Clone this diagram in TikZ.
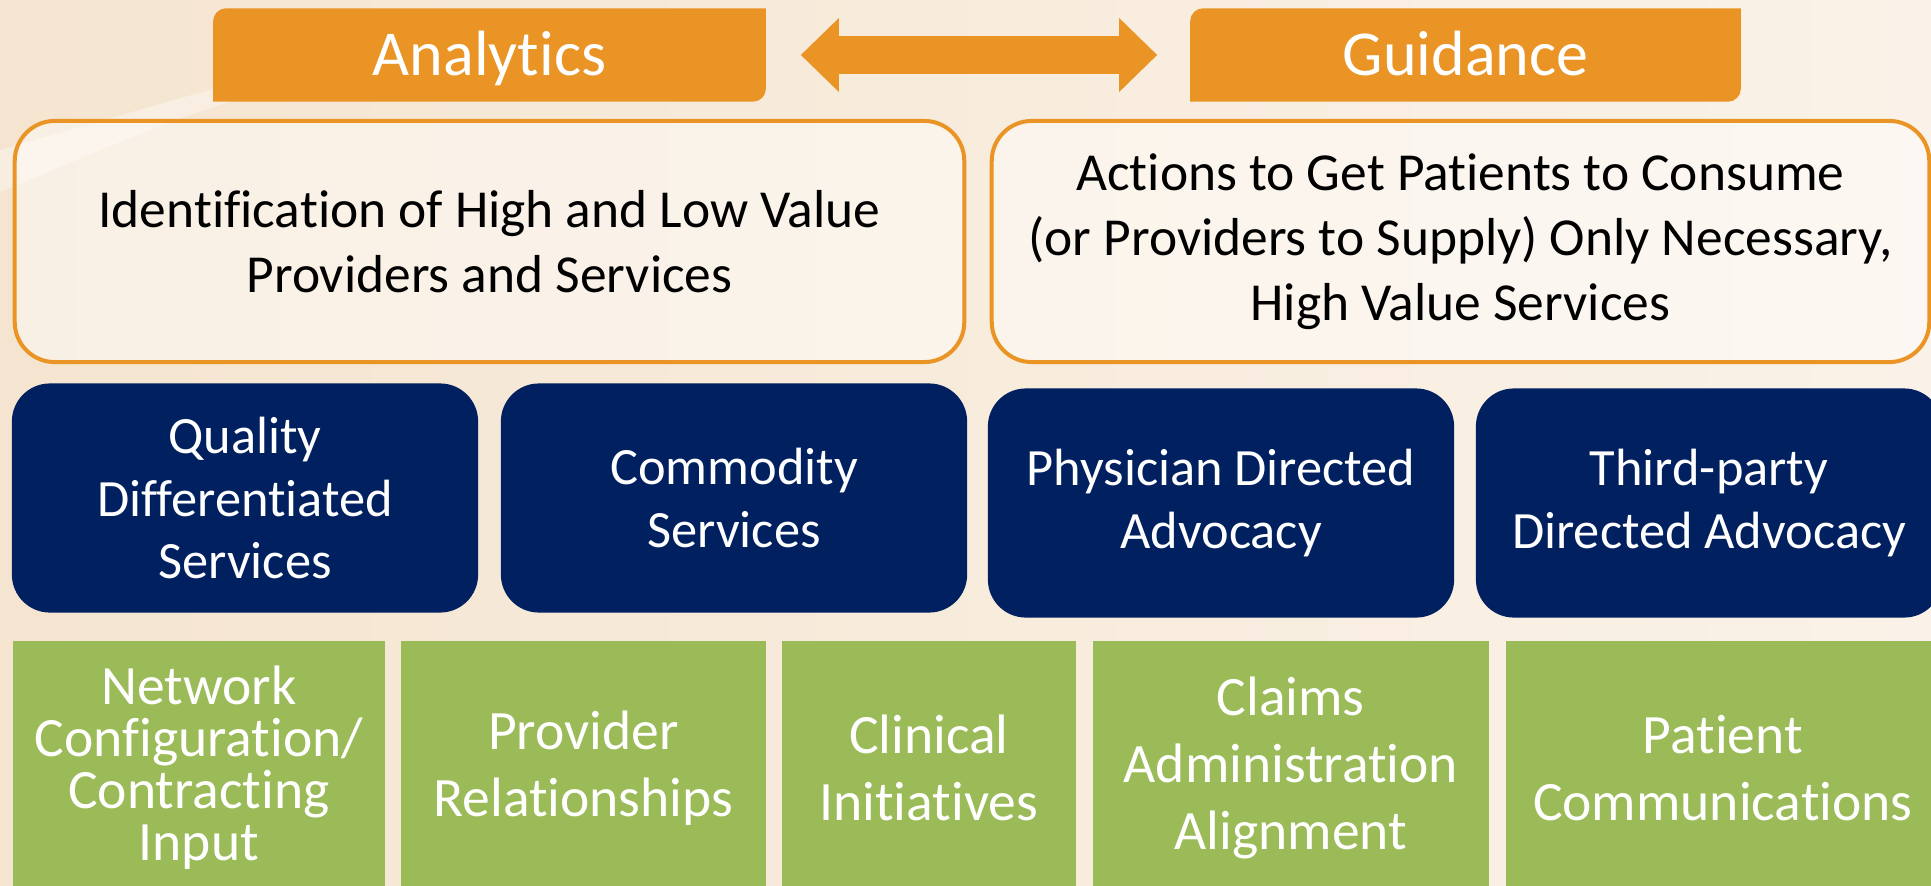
\documentclass[tikz,border=0pt]{standalone}
\usepackage{fontspec}
\setmainfont[Ligatures=NoCommon]{Carlito}
\usetikzlibrary{arrows.meta,backgrounds}
\definecolor{hdorange}{RGB}{233,148,37}
\definecolor{advnavy}{RGB}{0,32,96}
\definecolor{levgreen}{RGB}{155,187,89}
\definecolor{bgleft}{RGB}{245,229,208}
\definecolor{bgright}{RGB}{250,242,232}
\begin{document}
\begin{tikzpicture}[x=0.01cm,y=-0.01cm,
    heading/.style={text=white,inner sep=0pt,minimum height=0.92cm,text height=0.5cm,text depth=0.1cm,
      font=\fontsize{18.2}{21}\selectfont},
    valuebox/.style={draw=hdorange,line width=0.04cm,fill=white,fill opacity=0.45,text opacity=1,
      rounded corners=0.4cm,align=center,minimum height=2.41cm,font=\fontsize{15.2}{18.4}\selectfont},
    advocacy/.style={fill=advnavy,text=white,rounded corners=0.38cm,align=center,
      minimum width=4.66cm,minimum height=2.29cm,font=\fontsize{14.9}{17.9}\selectfont},
    lever/.style={fill=levgreen,text=white,align=center,anchor=north west,
      minimum height=2.54cm,font=\fontsize{15.8}{19}\selectfont}]
  \useasboundingbox (0,0) rectangle (1931,885);
  \begin{scope}[on background layer]
    \fill[left color=bgleft,right color=bgright] (0,0) rectangle (1931,885);
    \fill[white,opacity=0.35] (0,150) .. controls (90,125) and (170,100) .. (240,82)
      -- (250,96) .. controls (170,118) and (90,155) .. (0,192) -- cycle;
  \end{scope}

  % top row
  \node[heading,minimum width=5.51cm] (ana) at (489.5,55) {Analytics};
  \node[heading,minimum width=5.49cm] (gui) at (1465.5,55) {Guidance};
  \begin{scope}[on background layer]
    \foreach \hd in {ana,gui}
      \fill[hdorange] (\hd.south west) -- ([yshift=-0.13cm]\hd.north west)
        arc[start angle=180,end angle=90,radius=0.13cm] -- (\hd.north east)
        -- ([yshift=0.13cm]\hd.south east) arc[start angle=0,end angle=-90,radius=0.13cm] -- cycle;
  \end{scope}
  \draw[hdorange,line width=0.38cm,
    {Triangle[length=0.38cm,width=0.74cm,line width=0pt]}-{Triangle[length=0.38cm,width=0.74cm,line width=0pt]},
    shorten <=0.35cm,shorten >=0.33cm] (ana.east) -- (gui.west);

  % what each side does
  \node[valuebox,minimum width=9.49cm] (ident) at (489.5,241.5)
    {Identification of High and Low Value\\Providers and Services};
  \node[valuebox,minimum width=9.37cm] (actions) at (1460.5,241.5)
    {Actions to Get Patients to Consume\\(or Providers to Supply) Only Necessary,\\High Value Services};

  % service types and advocacy
  \node[advocacy] (quality) at (245,498) {Quality\\Differentiated\\Services};
  \node[advocacy] (commodity) at (734,498) {Commodity\\Services};
  \node[advocacy] (physician) at (1221,503) {Physician Directed\\Advocacy};
  \node[advocacy] (thirdparty) at (1709,503) {Third-party\\Directed Advocacy};

  % levers
  \node[lever,minimum width=3.72cm,font=\fontsize{15.8}{14.8}\selectfont] (network) at (12,640)
    {Network\\Configuration/\\Contracting\\Input};
  \node[lever,minimum width=3.65cm] (relations) at (400,640) {Provider\\Relationships};
  \node[lever,minimum width=2.94cm] (clinical) at (781,640) {Clinical\\Initiatives};
  \node[lever,minimum width=3.96cm] (claims) at (1092,640) {Claims\\Administration\\Alignment};
  \node[lever,minimum width=4.34cm] (comms) at (1505,640) {Patient\\Communications};
\end{tikzpicture}
\end{document}
